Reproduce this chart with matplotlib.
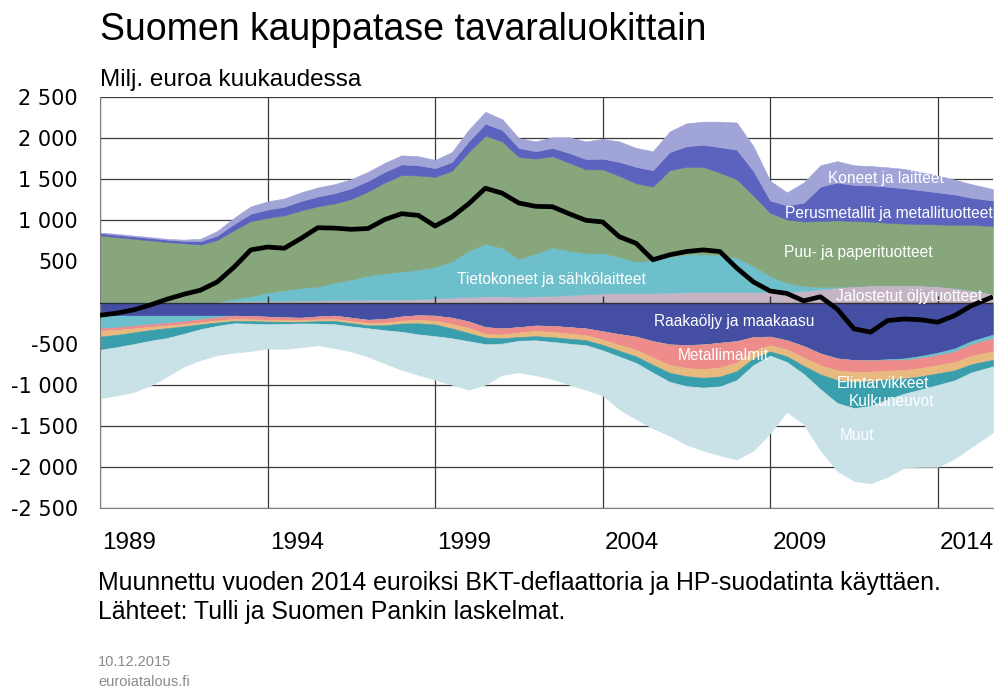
import numpy as np
import matplotlib
matplotlib.use("Agg")
import matplotlib.pyplot as plt
from matplotlib import font_manager as fm

names = {f.name for f in fm.fontManager.ttflist}
NARROW = 'Liberation Sans Narrow' if 'Liberation Sans Narrow' in names else 'Liberation Sans'
REG = 'Liberation Sans'

# ---------------- data (million euro per month) ----------------
dates = list(np.arange(1989.0, 2015.01, 0.5)) + [2015.65]

koneet = [5, 10, 10, 10, 10, 15, 30, 55, 75, 90,
          100, 100, 105, 110, 110, 110, 110, 110, 110, 110,
          100, 120, 140, 145, 130, 120, 120, 130, 190, 215,
          240, 250, 230, 230, 250, 280, 280, 310, 330, 300,
          240, 160, 245, 260, 260, 240, 235, 235, 235, 220,
          205, 180, 165, 140]
perus = [30, 30, 30, 30, 30, 30, 40, 55, 75, 90,
         100, 105, 115, 120, 125, 130, 130, 130, 130, 125,
         105, 110, 130, 145, 140, 110, 90, 100, 120, 125,
         130, 170, 200, 200, 220, 250, 270, 310, 360, 300,
         150, 170, 230, 420, 460, 440, 440, 440, 430, 410,
         390, 370, 330, 310]
puu = [805, 785, 765, 745, 725, 710, 695, 750, 835, 915,
       910, 910, 945, 975, 965, 980, 1025, 1105, 1175, 1145,
       1095, 1100, 1200, 1315, 1295, 1240, 1155, 1110, 1070, 1020,
       1020, 985, 950, 895, 1050, 1065, 1065, 1000, 955, 855,
       770, 770, 785, 800, 810, 790, 775, 760, 750, 745,
       750, 765, 795, 820]
tieto = [-160, -145, -125, -105, -90, -70, -45, -20, 30, 60,
         100, 130, 150, 170, 210, 250, 290, 320, 340, 360,
         385, 440, 560, 640, 590, 460, 520, 590, 540, 500,
         490, 440, 385, 400, 440, 460, 460, 455, 420, 320,
         190, 110, 60, 30, 10, 0, -5, -10, -20, -25,
         -30, -40, -40, -45]
jalostetut = [10, 10, 10, 10, 10, 10, 10, 10, 15, 15,
              20, 20, 25, 25, 30, 30, 35, 35, 35, 40,
              50, 60, 70, 75, 75, 70, 75, 80, 90, 100,
              110, 115, 115, 115, 120, 125, 125, 125, 125, 125,
              130, 130, 140, 160, 180, 200, 210, 210, 210, 210,
              200, 180, 150, 110]
raakaoljy = [-155, -158, -160, -160, -160, -160, -160, -160, -160, -165,
             -172, -180, -185, -170, -160, -185, -210, -200, -170, -155,
             -160, -185, -230, -300, -315, -300, -280, -285, -300, -315,
             -350, -385, -415, -470, -510, -517, -510, -490, -470, -420,
             -415, -460, -530, -620, -680, -700, -700, -690, -680, -650,
             -610, -560, -470, -390]
metallimalmit = [-30, -30, -30, -30, -30, -32, -35, -38, -40, -40,
                 -40, -35, -30, -35, -40, -40, -40, -45, -50, -58,
                 -62, -75, -81, -81, -75, -65, -65, -72, -78, -82,
                 -100, -130, -160, -200, -250, -280, -300, -300, -260, -170,
                 -105, -110, -140, -145, -145, -142, -135, -128, -122, -122,
                 -122, -125, -140, -160]
elintarvikkeet = [-70, -60, -50, -40, -32, -28, -25, -25, -25, -22,
                  -20, -20, -20, -22, -24, -26, -28, -32, -36, -40,
                  -45, -55, -60, -45, -45, -55, -65, -65, -62, -61,
                  -65, -72, -80, -88, -95, -100, -105, -110, -105, -90,
                  -75, -85, -100, -110, -118, -122, -118, -110, -102, -100,
                  -100, -101, -101, -101]
kulkuneuvot = [-160, -150, -140, -130, -120, -90, -60, -40, -28, -30,
               -32, -25, -20, -30, -40, -40, -35, -60, -100, -135,
               -142, -120, -100, -80, -65, -45, -50, -58, -60, -61,
               -66, -72, -80, -95, -110, -120, -120, -120, -110, -80,
               -50, -70, -100, -180, -280, -320, -300, -240, -185, -160,
               -140, -122, -100, -81]
muut = [-591, -587, -585, -545, -468, -400, -375, -357, -357, -333,
        -296, -305, -290, -263, -291, -304, -347, -403, -464, -492,
        -531, -565, -589, -494, -380, -385, -425, -450, -500, -541,
        -549, -641, -685, -677, -655, -713, -765, -840, -965, -1040,
        -945, -605, -610, -745, -827, -886, -942, -942, -901, -943,
        -998, -952, -909, -803]
kauppatase = [-155, -130, -90, -30, 40, 100, 150, 250, 430, 640,
              675, 660, 780, 910, 905, 890, 900, 1010, 1080, 1060,
              930, 1040, 1200, 1390, 1330, 1210, 1170, 1165, 1080, 1000,
              980, 800, 720, 520, 580, 620, 640, 620, 420, 250,
              140, 110, 20, 70, -80, -320, -360, -220, -200, -210,
              -240, -160, -40, 70]

series = [
    ("Raakaöljy ja maakaasu", raakaoljy, "#444EA2"),
    ("Jalostetut öljytuotteet", jalostetut, "#C5B4C4"),
    ("Tietokoneet ja sähkölaitteet", tieto, "#6EBFCC"),
    ("Metallimalmit", metallimalmit, "#EE8C8C"),
    ("Elintarvikkeet", elintarvikkeet, "#E8BA80"),
    ("Kulkuneuvot", kulkuneuvot, "#3A9FAD"),
    ("Puu- ja paperituotteet", puu, "#87A67B"),
    ("Perusmetallit ja metallituotteet", perus, "#5B63BE"),
    ("Koneet ja laitteet", koneet, "#A0A4D6"),
    ("Muut", muut, "#C8E2E7"),
]

labels = [
    ("Koneet ja laitteet", 2012.45, 1510),
    ("Perusmetallit ja metallituotteet", 2012.54, 1085),
    ("Puu- ja paperituotteet", 2011.64, 614),
    ("Tietokoneet ja sähkölaitteet", 2002.48, 274),
    ("Jalostetut öljytuotteet", 2013.16, 71),
    ("Raakaöljy ja maakaasu", 2007.94, -233),
    ("Metallimalmit", 2007.6, -639),
    ("Elintarvikkeet", 2012.36, -983),
    ("Kulkuneuvot", 2012.62, -1206),
    ("Muut", 2011.6, -1612),
]

grid_years = [1989, 1994, 1999, 2004, 2009, 2014]
label_years = [1989, 1994, 1999, 2004, 2009, 2014]
yticks = [-2500, -2000, -1500, -1000, -500, 0, 500, 1000, 1500, 2000, 2500]

# ---------------- figure ----------------
fig = plt.figure(figsize=(9.95, 6.90), dpi=100)
ax = fig.add_axes([100 / 995, 1 - 508 / 690, 893 / 995, 411 / 690])

t = np.array(dates)
pos_base = np.zeros(len(t))
neg_base = np.zeros(len(t))
for name, vals, col in series:
    v = np.array(vals, dtype=float)
    p = np.clip(v, 0, None)
    n = np.clip(v, None, 0)
    if p.any():
        ax.fill_between(t, pos_base, pos_base + p, facecolor=col, edgecolor=col,
                        lw=0.4, zorder=2)
        pos_base = pos_base + p
    if n.any():
        ax.fill_between(t, neg_base, neg_base + n, facecolor=col, edgecolor=col,
                        lw=0.4, zorder=2)
        neg_base = neg_base + n

ax.axhline(0, color="#303030", lw=1.0, zorder=3)
ax.vlines(grid_years[1:], 0, 80, color="#303030", lw=1.0, zorder=3)
ax.plot(t, kauppatase, color="black", lw=3.4, zorder=5, solid_capstyle="butt")

for txt, x, y in labels:
    ax.text(x, y, txt, color="white", fontsize=11.2, family=REG,
            ha="center", va="center", zorder=6)

ax.set_xlim(1989, 2015.65)
ax.set_ylim(-2500, 2500)

ax.set_yticks(yticks)
ax.set_yticklabels([("" if v == 0 else f"{v:,}".replace(",", " ")) for v in yticks],
                   family="DejaVu Sans", fontsize=15)
ax.set_xticks(grid_years, minor=True)
ax.set_xticks([y + 0.88 for y in label_years])
ax.set_xticklabels([str(y) for y in label_years], family=NARROW, fontsize=17.5)
ax.tick_params(axis="both", which="both", length=0)
ax.tick_params(axis="y", pad=16)
ax.tick_params(axis="x", pad=17)

ax.grid(True, axis="y", which="major", color="#3a3a3a", lw=0.9, zorder=0)
ax.grid(True, axis="x", which="minor", color="#3a3a3a", lw=0.9, zorder=0)
ax.set_axisbelow(True)
for s in ["top", "right"]:
    ax.spines[s].set_visible(False)
ax.spines["left"].set_color("#808080")
ax.spines["bottom"].set_color("#808080")

fig.text(100 / 995, 1 - 30 / 690, "Suomen kauppatase tavaraluokittain",
         family=NARROW, fontsize=27, va="center", ha="left")
fig.text(100 / 995, 1 - 80 / 690, "Milj. euroa kuukaudessa",
         family=NARROW, fontsize=17.5, va="center", ha="left")
fig.text(98 / 995, 1 - 583 / 690,
         "Muunnettu vuoden 2014 euroiksi BKT-deflaattoria ja HP-suodatinta käyttäen.",
         family=NARROW, fontsize=17.9, va="center", ha="left")
fig.text(98 / 995, 1 - 612 / 690, "Lähteet: Tulli ja Suomen Pankin laskelmat.",
         family=NARROW, fontsize=17.9, va="center", ha="left")
fig.text(98 / 995, 1 - 662 / 690, "10.12.2015", family=NARROW, fontsize=10.5,
         color="#8a8a8a", va="center", ha="left")
fig.text(98 / 995, 1 - 682 / 690, "euroiatalous.fi", family=NARROW, fontsize=10.5,
         color="#8a8a8a", va="center", ha="left")

fig.savefig("out.png", dpi=100)
